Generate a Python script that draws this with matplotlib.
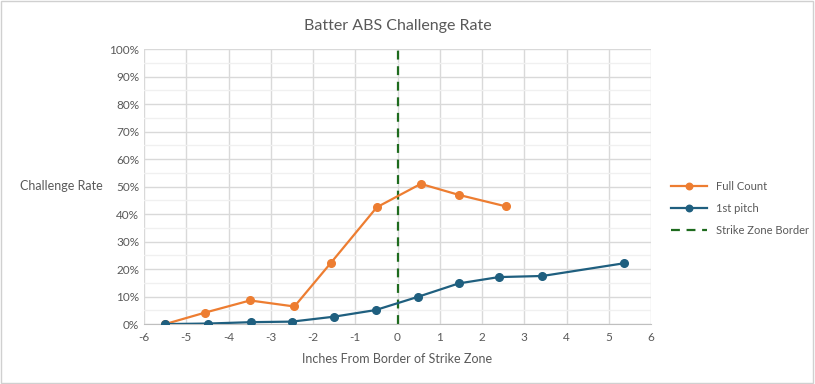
import numpy as np
import matplotlib.pyplot as plt
from matplotlib.ticker import MultipleLocator, FuncFormatter

# data
full_x = [-5.5, -4.55, -3.49, -2.44, -1.57, -0.49, 0.55, 1.45, 2.57]
full_y = [0.0, 4.2, 8.6, 6.4, 22.4, 42.5, 51.0, 47.0, 42.8]

first_x = [-5.5, -4.48, -3.47, -2.5, -1.5, -0.52, 0.48, 1.45, 2.4, 3.43, 5.35]
first_y = [0.0, 0.2, 0.7, 0.9, 2.7, 5.1, 9.9, 14.8, 17.1, 17.5, 22.1]

border_x = 0

orange = '#ED7D31'
blue = '#1F5F7F'
green = '#1E6B1E'
txt = '#595959'

plt.rcParams['font.family'] = ['Lato', 'DejaVu Sans']
plt.rcParams['axes.unicode_minus'] = False

fig = plt.figure(figsize=(8.15, 3.84), dpi=100)
# outer chart border
fig.patches.append(plt.Rectangle((0.001, 0.002), 0.997, 0.995, transform=fig.transFigure,
                                 fill=False, edgecolor='#D0D0D0', linewidth=1))
ax = fig.add_axes([0.1767, 0.156, 0.6221, 0.716])

ax.plot(full_x, full_y, color=orange, marker='o', markersize=5.5, linewidth=1.6,
        label='Full Count', zorder=3)
ax.plot(first_x, first_y, color=blue, marker='o', markersize=5.5, linewidth=1.6,
        label='1st pitch', zorder=3)
ax.axvline(border_x, color=green, linestyle=(0, (4, 3)), linewidth=1.6,
           label='Strike Zone Border', zorder=2)

ax.set_xlim(-6, 6)
ax.set_ylim(0, 100)
ax.xaxis.set_major_locator(MultipleLocator(1))
ax.yaxis.set_major_locator(MultipleLocator(10))
ax.yaxis.set_minor_locator(MultipleLocator(5))
ax.yaxis.set_major_formatter(FuncFormatter(lambda v, p: f'{v:.0f}%'))

ax.grid(which='major', color='#D9D9D9', linewidth=1)
ax.grid(which='minor', axis='y', color='#F0F0F0', linewidth=1)
ax.set_axisbelow(True)
for s in ['top', 'right', 'left']:
    ax.spines[s].set_visible(False)
ax.spines['bottom'].set_color('#BFBFBF')
ax.tick_params(which='both', length=0, colors=txt, labelsize=8.5)
ax.tick_params(axis='x', pad=6)

ax.set_title('Batter ABS Challenge Rate', color=txt, fontsize=11.5, pad=14)
ax.set_xlabel('Inches From Border of Strike Zone', color=txt, fontsize=9, labelpad=7)
fig.text(0.024, 0.515, 'Challenge Rate', color=txt, fontsize=9, va='center', ha='left')

leg = ax.legend(loc='center left', bbox_to_anchor=(1.02, 0.42), frameon=False,
                fontsize=8, labelcolor=txt, handlelength=3.2, labelspacing=1.0,
                markerscale=0.85)

fig.savefig('out.png', dpi=100)
